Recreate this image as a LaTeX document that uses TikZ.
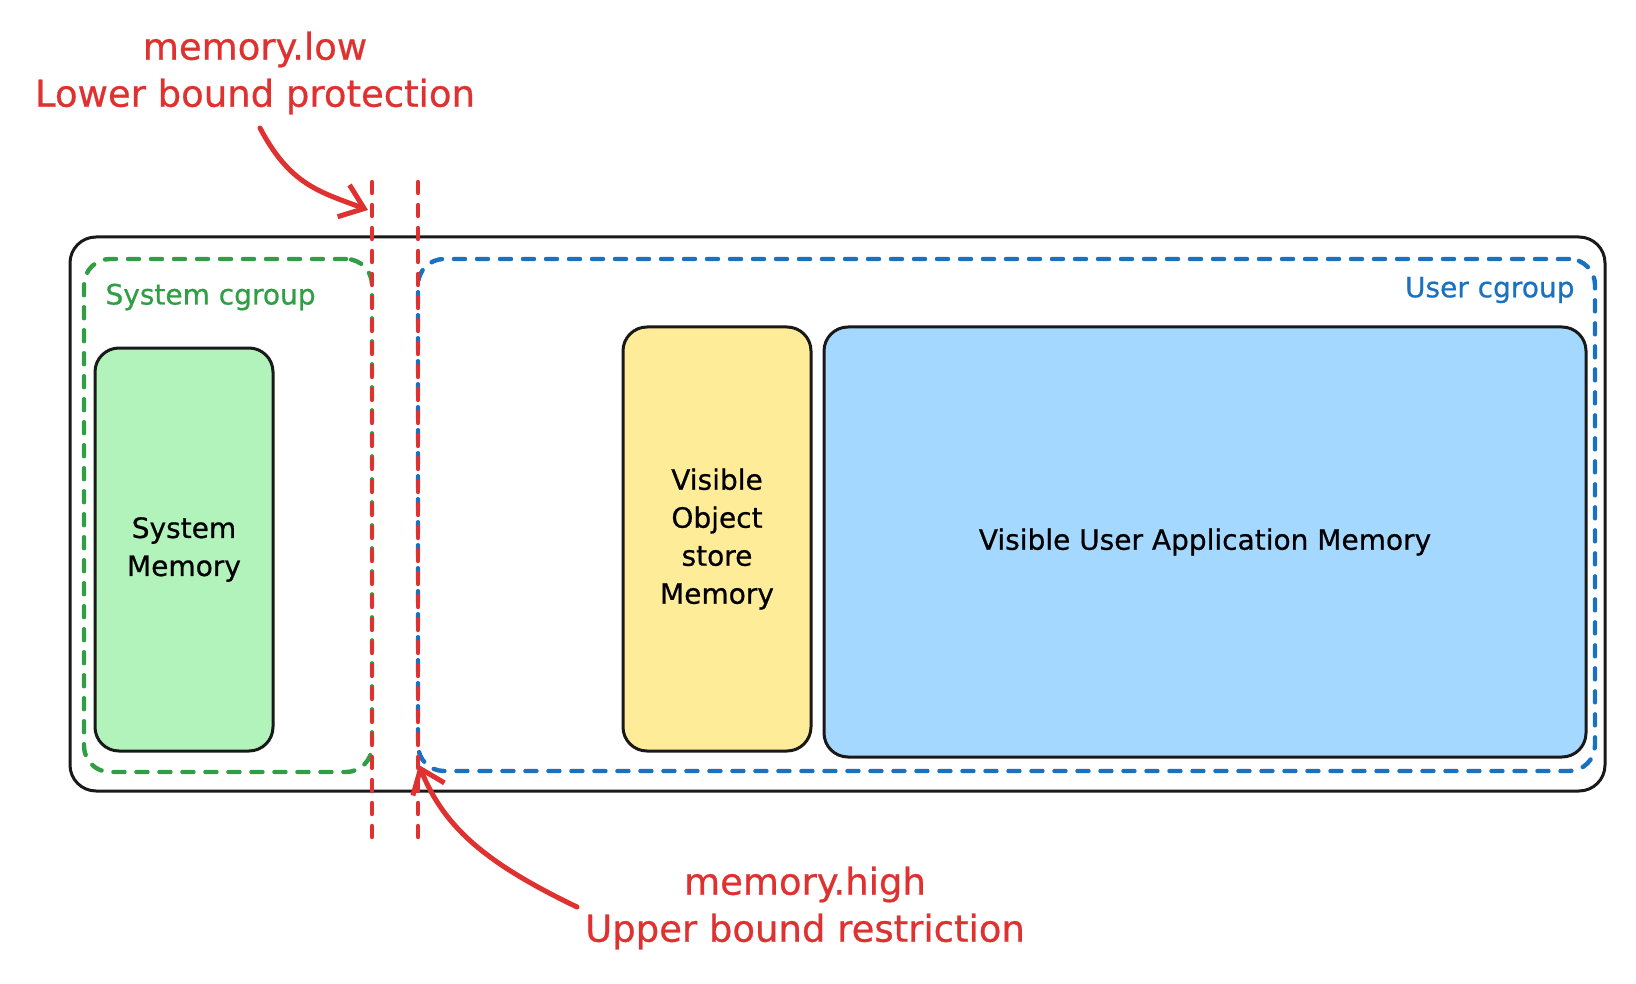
\documentclass[tikz,border=0pt]{standalone}
\usepackage{fontspec}
\setmainfont{DejaVu Sans}
\newfontfamily\sketchfont{DejaVu Sans}[FakeBold=0.7]
\usetikzlibrary{arrows.meta,positioning,calc}

\definecolor{exred}{HTML}{E03131}
\definecolor{exgreen}{HTML}{2F9E44}
\definecolor{exblue}{HTML}{1971C2}
\definecolor{fillgreen}{HTML}{B2F2BB}
\definecolor{fillyellow}{HTML}{FFEC99}
\definecolor{fillblue}{HTML}{A5D8FF}

\begin{document}
\begin{tikzpicture}[
  x=1pt, y=-1pt,
  frame/.style={draw=black!90, line width=3pt, rounded corners=26pt},
  group/.style={draw, line width=4.4pt, dash pattern=on 11pt off 12pt, line cap=round, rounded corners=26pt},
  membox/.style={draw=black!90, line width=3pt, rounded corners=24pt, align=center, font=\sketchfont\fontsize{28}{38}\selectfont},
  grouplabel/.style={font=\sketchfont\fontsize{28}{32}\selectfont},
  note/.style={align=center, text=exred, font=\sketchfont\fontsize{37}{47}\selectfont},
  limit/.style={draw=exred, line width=4.4pt, dash pattern=on 11pt off 12pt, line cap=round},
  arr/.style={-{Straight Barb[length=22pt, width=34pt, line width=5pt]}, draw=exred, line width=5pt, line cap=round}
]
\useasboundingbox (0,0) rectangle (1636,984);

% outer frame and the two cgroups
\node[frame, minimum width=1535pt, minimum height=554pt] (outer) at (837.5,514) {};
\node[group, draw=exgreen, minimum width=288pt, minimum height=513pt] (sysgrp) at (228,515.5) {};
\node[group, draw=exblue, minimum width=1177pt, minimum height=512pt] (usergrp) at (1006.5,515) {};
\node[grouplabel, text=exgreen, anchor=west] (syslabel) at (102,297) {System cgroup};
\node[grouplabel, text=exblue, anchor=east] (userlabel) at (1578,290) {User cgroup};

% memory boxes
\node[membox, fill=fillgreen, minimum width=178pt, minimum height=403pt] (sysmem) at (184,549.5) {System\\Memory};
\node[membox, fill=fillyellow, minimum width=188pt, minimum height=424pt] (objmem) at (717,539) {Visible\\Object\\store\\Memory};
\node[membox, fill=fillblue, minimum width=762pt, minimum height=430pt] (appmem) at (1205,542) {Visible User Application Memory};

% limits
\coordinate (lowtop) at (372,182);
\coordinate (lowbot) at (372,837);
\coordinate (hightop) at (418,182);
\coordinate (highbot) at (418,837);
\draw[limit] (lowtop) -- (lowbot);
\draw[limit] (hightop) -- (highbot);

\node[note] (lowtxt) at (255,73) {memory.low\\Lower bound protection};
\node[note] (hightxt) at (805,908) {memory.high\\Upper bound restriction};

\coordinate (lowstart) at (260,128);
\coordinate (lowtip) at (368,210);
\coordinate (highstart) at (577,907);
\coordinate (hightip) at (419,765);
\draw[arr] (lowstart) .. controls (290,185) and (320,192) .. (lowtip);
\draw[arr] (highstart) .. controls (490,865) and (445,830) .. (hightip);

\end{tikzpicture}
\end{document}
